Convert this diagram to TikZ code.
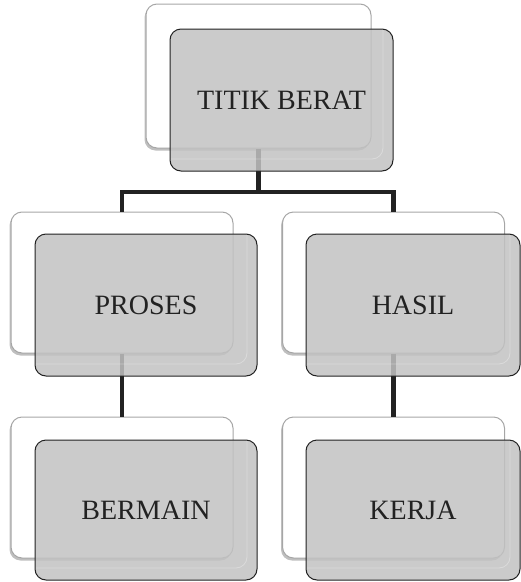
\documentclass[tikz,border=0pt]{standalone}
\usepackage{fontspec}
\setmainfont{Liberation Serif}
\usetikzlibrary{shadows}
\definecolor{boxgray}{gray}{0.76}
\definecolor{inkdark}{HTML}{222222}
\tikzset{
  backbox/.style={draw=gray!70, line width=1pt, fill=white, rounded corners=11pt,
    minimum width=222pt, minimum height=141pt, inner sep=0pt,
    drop shadow={shadow xshift=-1.5pt, shadow yshift=-2.5pt, opacity=0.25, fill=black}},
  frontbox/.style={draw=inkdark, line width=1pt, fill=boxgray, fill opacity=0.85, text opacity=1,
    rounded corners=11pt, minimum width=222pt, minimum height=142pt, inner sep=0pt,
    text=inkdark, font=\fontsize{28}{32}\selectfont,
    path picture={\draw[white, opacity=0.3, line width=0.8pt]
      ([yshift=12pt]path picture bounding box.south west) --
      ([xshift=-10pt,yshift=12pt]path picture bounding box.south east) --
      ([xshift=-10pt]path picture bounding box.north east);}},
  conn/.style={draw=inkdark, line width=4.5pt, line join=miter}
}
\begin{document}
\begin{tikzpicture}[x=1pt, y=-1pt]
\useasboundingbox (0,0) rectangle (521,582);
% back boxes
\node[backbox, minimum width=225pt, minimum height=144pt] (b0) at (258.5,76) {};
\node[backbox] (b1) at (122,282.5) {};
\node[backbox] (b2) at (393.5,282.5) {};
\node[backbox] (b3) at (122,487.5) {};
\node[backbox] (b4) at (393.5,487.5) {};
% connectors
\coordinate (j) at (258.5,192);
\draw[conn] (b0.south) -- (j) -| (b1.north);
\draw[conn] (j) -| (b2.north);
\draw[conn] (b1.south) -- (b3.north);
\draw[conn] (b2.south) -- (b4.north);
% front boxes
\node[frontbox, minimum width=223pt] (f0) at (281.5,100) {TITIK BERAT};
\node[frontbox] (f1) at (146,305) {PROSES};
\node[frontbox, minimum width=214pt] (f2) at (413,305) {HASIL};
\node[frontbox, minimum height=140pt] (f3) at (146,510) {BERMAIN};
\node[frontbox, minimum width=214pt, minimum height=140pt] (f4) at (413,510) {KERJA};
\end{tikzpicture}
\end{document}
